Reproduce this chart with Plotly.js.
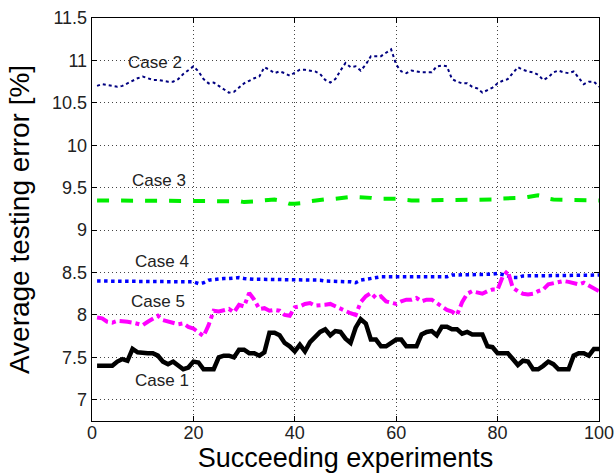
<!DOCTYPE html>
<html>
<head>
<meta charset="utf-8">
<script src="https://cdn.plot.ly/plotly-3.0.1.min.js"></script>
<style>html,body{margin:0;padding:0;background:#fff}#chart{width:616px;height:474px}</style>
</head>
<body>
<div id="chart"></div>
<script>
const experiments = Array.from({length: 100}, (_, i) => i + 1);

const case1 = [7.40,7.40,7.40,7.40,7.45,7.48,7.46,7.60,7.56,7.55,
  7.55,7.55,7.52,7.45,7.42,7.45,7.40,7.36,7.38,7.45,
  7.44,7.36,7.36,7.36,7.50,7.52,7.52,7.50,7.59,7.59,
  7.55,7.55,7.52,7.56,7.79,7.79,7.76,7.67,7.63,7.57,
  7.65,7.57,7.68,7.75,7.80,7.83,7.76,7.81,7.80,7.72,
  7.67,7.85,7.95,7.90,7.71,7.71,7.63,7.63,7.67,7.71,
  7.71,7.63,7.63,7.63,7.77,7.80,7.81,7.76,7.86,7.86,
  7.83,7.83,7.78,7.80,7.77,7.77,7.77,7.63,7.62,7.55,
  7.55,7.55,7.48,7.41,7.46,7.45,7.36,7.36,7.40,7.45,
  7.42,7.36,7.36,7.36,7.52,7.55,7.55,7.52,7.60,7.60];

const case2 = [10.70,10.72,10.71,10.70,10.69,10.70,10.73,10.76,10.79,10.81,
  10.79,10.77,10.77,10.76,10.75,10.75,10.78,10.84,10.88,10.93,
  10.87,10.78,10.73,10.74,10.70,10.66,10.62,10.63,10.68,10.73,
  10.76,10.79,10.81,10.92,10.89,10.85,10.87,10.85,10.82,10.86,
  10.89,10.89,10.88,10.87,10.84,10.77,10.74,10.78,10.88,10.97,
  10.92,10.93,10.88,10.95,11.05,11.05,11.05,11.09,11.13,10.95,
  10.87,10.85,10.88,10.87,10.86,10.86,10.86,10.93,10.94,10.93,
  10.78,10.75,10.73,10.73,10.69,10.67,10.62,10.65,10.68,10.73,
  10.76,10.78,10.85,10.92,10.89,10.87,10.86,10.83,10.77,10.80,
  10.86,10.88,10.86,10.85,10.87,10.79,10.72,10.75,10.75,10.69];

const case3 = [9.35,9.35,9.35,9.35,9.35,9.35,9.35,9.35,9.35,9.35,
  9.35,9.35,9.35,9.35,9.35,9.35,9.35,9.35,9.35,9.35,
  9.35,9.35,9.35,9.35,9.35,9.35,9.35,9.35,9.34,9.33,
  9.33,9.33,9.34,9.35,9.36,9.36,9.35,9.33,9.31,9.31,
  9.31,9.32,9.34,9.35,9.35,9.36,9.37,9.37,9.38,9.38,
  9.39,9.39,9.39,9.39,9.38,9.37,9.37,9.37,9.38,9.37,
  9.36,9.35,9.35,9.35,9.35,9.35,9.35,9.35,9.35,9.35,
  9.35,9.35,9.35,9.35,9.35,9.35,9.35,9.35,9.36,9.37,
  9.37,9.37,9.37,9.38,9.38,9.39,9.40,9.41,9.40,9.37,
  9.36,9.36,9.35,9.35,9.35,9.35,9.35,9.35,9.35,9.35];

const case4 = [8.40,8.40,8.40,8.40,8.40,8.40,8.40,8.40,8.40,8.40,
  8.40,8.40,8.40,8.40,8.40,8.40,8.40,8.40,8.40,8.39,
  8.37,8.38,8.41,8.42,8.43,8.43,8.43,8.44,8.44,8.43,
  8.42,8.42,8.42,8.42,8.42,8.42,8.42,8.42,8.41,8.41,
  8.41,8.41,8.41,8.41,8.41,8.40,8.40,8.40,8.40,8.40,
  8.39,8.38,8.41,8.42,8.43,8.45,8.45,8.45,8.45,8.45,
  8.45,8.45,8.45,8.45,8.45,8.45,8.45,8.45,8.45,8.45,
  8.47,8.47,8.47,8.47,8.47,8.47,8.47,8.47,8.48,8.49,
  8.48,8.46,8.44,8.44,8.46,8.46,8.46,8.46,8.47,8.47,
  8.47,8.47,8.47,8.47,8.47,8.47,8.47,8.47,8.47,8.47];

const case5 = [7.97,7.96,7.92,7.91,7.93,7.93,7.92,7.91,7.90,7.88,
  7.92,7.95,7.99,7.94,7.92,7.90,7.89,7.90,7.86,7.84,
  7.80,7.75,7.88,8.05,8.04,8.05,8.07,8.03,8.12,8.10,
  8.26,8.18,8.07,8.08,8.05,8.06,8.05,8.00,7.99,8.09,
  8.10,8.13,8.14,8.11,8.11,8.12,8.13,8.10,8.07,8.05,
  8.02,8.00,8.15,8.22,8.26,8.20,8.22,8.16,8.15,8.13,
  8.16,8.18,8.18,8.20,8.16,8.18,8.18,8.14,8.10,8.06,
  8.04,8.00,8.15,8.25,8.28,8.27,8.25,8.28,8.30,8.30,
  8.45,8.52,8.32,8.28,8.25,8.24,8.25,8.28,8.30,8.36,
  8.37,8.38,8.40,8.39,8.37,8.36,8.38,8.35,8.31,8.28];

const caseLabels = ["Case 1","Case 2","Case 3","Case 4","Case 5"];
const labelX = [13.8, 12.4, 13.2, 13.8, 13.0];
const labelY = [7.23, 10.98, 9.59, 8.63, 8.16];

const xTicks = [0,20,40,60,80,100];
const yTicks = [7,7.5,8,8.5,9,9.5,10,10.5,11,11.5];
const yTickText = ["7","7.5","8","8.5","9","9.5","10","10.5","11","11.5"];

const FONT = "Liberation Sans, Arial, Helvetica, sans-serif";

const traces = [
  {x: experiments, y: case2, mode: 'lines', line: {color: '#000080', width: 2, dash: 'dot'}},
  {x: experiments, y: case3, mode: 'lines', line: {color: '#00ee00', width: 4, dash: 'dash'}},
  {x: experiments, y: case4, mode: 'lines', line: {color: '#0000ff', width: 3.5, dash: 'dot'}},
  {x: experiments, y: case5, mode: 'lines', line: {color: '#ff00ff', width: 4, dash: 'dashdot'}},
  {x: experiments, y: case1, mode: 'lines', line: {color: '#000000', width: 4.5}}
];

const annotations = caseLabels.map((t, i) => ({
  x: labelX[i], y: labelY[i], xref: 'x', yref: 'y', text: t, showarrow: false,
  font: {family: FONT, size: 17, color: '#222'}
}));

const axisCommon = {
  showline: true, linecolor: '#000', linewidth: 1.3, mirror: 'ticks',
  ticks: 'inside', ticklen: 5, tickcolor: '#000', tickwidth: 1,
  showgrid: true, gridcolor: '#444', griddash: '1px,3px', gridwidth: 1,
  zeroline: false, tickfont: {family: FONT, size: 18, color: '#222'}
};

const layout = {
  width: 616, height: 474,
  margin: {l: 92, r: 17, t: 18, b: 53},
  paper_bgcolor: '#fff', plot_bgcolor: '#fff',
  showlegend: false,
  xaxis: Object.assign({}, axisCommon, {
    range: [0, 100], tickvals: xTicks, ticklabelstandoff: -5,
    title: {text: 'Succeeding experiments', font: {family: FONT, size: 27, color: '#000'}, standoff: 2}
  }),
  yaxis: Object.assign({}, axisCommon, {
    range: [6.75, 11.5], tickvals: yTicks, ticktext: yTickText,
    title: {text: 'Average testing error [%]', font: {family: FONT, size: 28, color: '#000'}, standoff: 14}
  }),
  annotations: annotations
};

Plotly.newPlot('chart', traces, layout, {staticPlot: true, displayModeBar: false});
</script>
</body>
</html>
